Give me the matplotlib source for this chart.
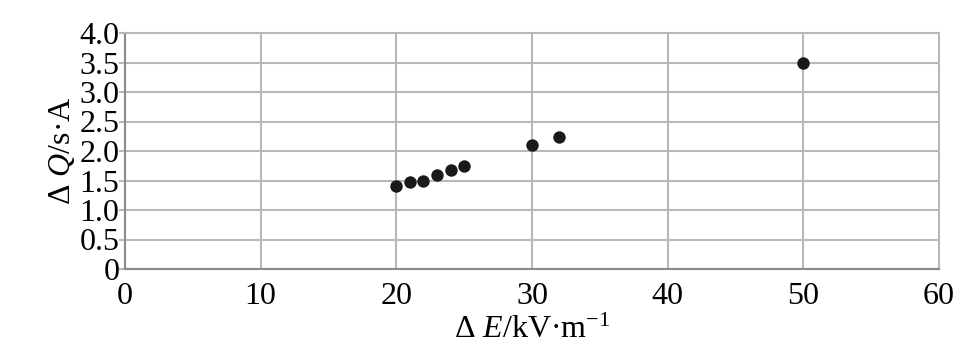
import matplotlib
matplotlib.use("Agg")
import matplotlib.pyplot as plt

# Data
delta_E = [20, 21, 22, 23, 24, 25, 30, 32, 50]
delta_Q = [1.40, 1.47, 1.50, 1.60, 1.68, 1.75, 2.10, 2.24, 3.50]
x_ticks = [0, 10, 20, 30, 40, 50, 60]
y_ticks = [0, 0.5, 1.0, 1.5, 2.0, 2.5, 3.0, 3.5, 4.0]
y_tick_labels = ["0", "0.5", "1.0", "1.5", "2.0", "2.5", "3.0", "3.5", "4.0"]

plt.rcParams['font.family'] = ['Liberation Serif', 'DejaVu Serif']
plt.rcParams['mathtext.fontset'] = 'custom'
plt.rcParams['mathtext.rm'] = 'Liberation Serif'
plt.rcParams['mathtext.it'] = 'Liberation Serif:italic'

fig = plt.figure(figsize=(9.72, 3.61), dpi=100)
ax = fig.add_axes([125/972, 1 - 269/361, (939-125)/972, (269-33)/361])

ax.scatter(delta_E, delta_Q, s=80, color='#1a1a1a', zorder=3, linewidths=0)

ax.set_xlim(0, 60)
ax.set_ylim(0, 4.0)
ax.set_xticks(x_ticks)
ax.set_yticks(y_ticks)
ax.set_yticklabels(y_tick_labels)
ax.grid(True, color='#b8b8b8', linewidth=1.5)
ax.set_axisbelow(True)

for side in ['top', 'right']:
    ax.spines[side].set_color('#b8b8b8')
    ax.spines[side].set_linewidth(1.5)
for side in ['left', 'bottom']:
    ax.spines[side].set_color('#8a8a8a')
    ax.spines[side].set_linewidth(1.5)

ax.tick_params(axis='y', length=4, width=1.5, color='#b8b8b8', labelsize=23, pad=0)
ax.tick_params(axis='x', length=0, labelsize=23, pad=9)

ax.set_xlabel(r"Δ $E$/kV·m$^{-1}$", fontsize=23, labelpad=4)
ax.set_ylabel(r"Δ $Q$/s·A", fontsize=23, labelpad=2)

fig.savefig("out.png", dpi=100)
